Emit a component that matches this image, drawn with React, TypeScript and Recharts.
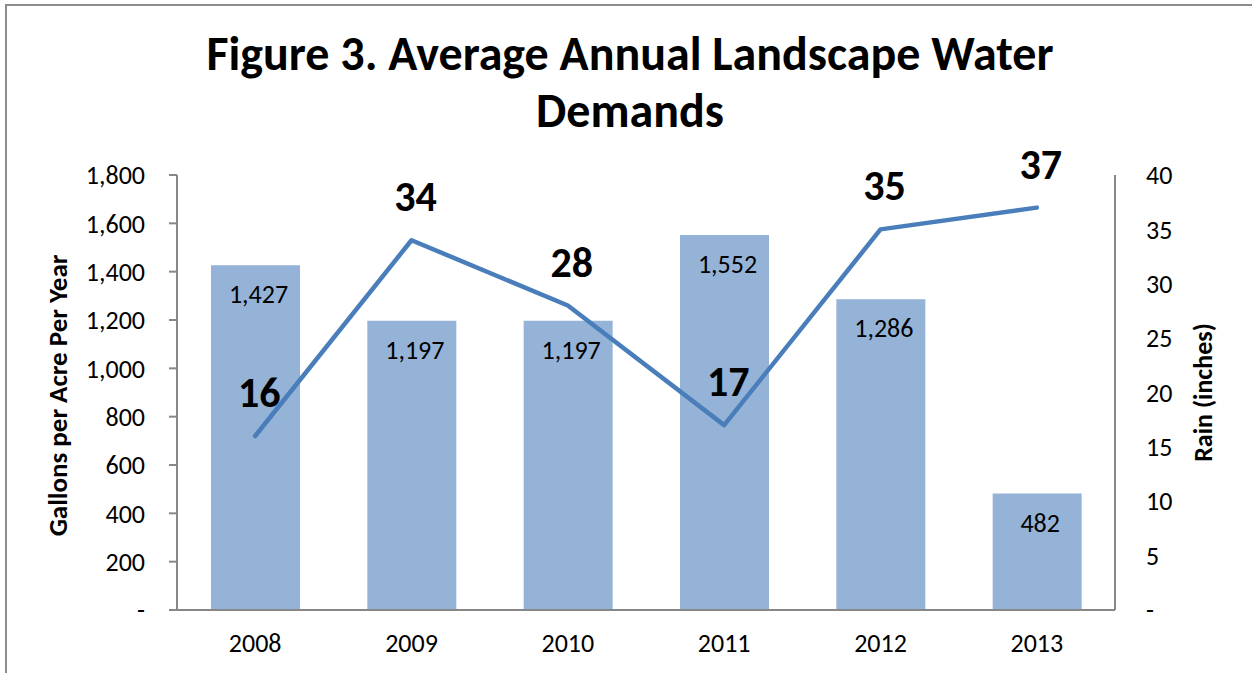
import {
  ComposedChart,
  Bar,
  Line,
  XAxis,
  YAxis,
  LabelList,
} from "recharts";

const years = ["2008", "2009", "2010", "2011", "2012", "2013"];
const gallonsPerAcre = [1427, 1197, 1197, 1552, 1286, 482];
const rainInches = [16, 34, 28, 17, 35, 37];
const leftTicks = [0, 200, 400, 600, 800, 1000, 1200, 1400, 1600, 1800];
const rightTicks = [0, 5, 10, 15, 20, 25, 30, 35, 40];

const data = years.map((year, i) => ({
  year,
  gallons: gallonsPerAcre[i],
  rain: rainInches[i],
}));

const FONT = "Carlito, Lato, 'Open Sans', sans-serif";
const AXIS_GRAY = "#878787";

const fmtLeft = (v: number) => (v === 0 ? "-" : v.toLocaleString("en-US"));
const fmtRight = (v: number) => (v === 0 ? "-" : String(v));

const rainLabel = (props: any) => {
  const { x, y, value } = props;
  return (
    <text
      x={x + 4}
      y={y - 29}
      textAnchor="middle"
      fontSize={42}
      fontWeight="bold"
      fontFamily={FONT}
      fill="#000"
    >
      {value}
    </text>
  );
};

const barLabel = (props: any) => {
  const { x, y, width, value } = props;
  return (
    <text
      x={x + width / 2 + 3}
      y={y + 38}
      textAnchor="middle"
      fontSize={26}
      fontFamily={FONT}
      fill="#000"
    >
      {Number(value).toLocaleString("en-US")}
    </text>
  );
};

const leftTitle = (props: any) => {
  const vb = props.viewBox || { x: 0, y: 175, width: 177, height: 435 };
  const cx = vb.x + 57;
  const cy = vb.y + vb.height / 2 + 3;
  return (
    <text
      x={cx}
      y={cy}
      transform={`rotate(-90, ${cx}, ${cy})`}
      textAnchor="middle"
      dominantBaseline="central"
      fontSize={27}
      fontWeight="bold"
      fontFamily={FONT}
      fill="#000"
    >
      Gallons per Acre Per Year
    </text>
  );
};

const rightTitle = (props: any) => {
  const vb = props.viewBox || { x: 1115, y: 175, width: 137, height: 435 };
  const cx = vb.x + 88;
  const cy = vb.y + vb.height / 2;
  return (
    <text
      x={cx}
      y={cy}
      transform={`rotate(-90, ${cx}, ${cy})`}
      textAnchor="middle"
      dominantBaseline="central"
      fontSize={26}
      fontWeight="bold"
      fontFamily={FONT}
      fill="#000"
    >
      Rain (inches)
    </text>
  );
};

export default function App() {
  return (
    <div
      style={{
        position: "absolute",
        top: 0,
        left: 0,
        width: 1252,
        height: 673,
        background: "#fff",
        overflow: "hidden",
        fontFamily: FONT,
      }}
    >
      {/* chart frame, cut off on the right and bottom */}
      <div
        style={{
          position: "absolute",
          left: 5,
          top: 4,
          width: 1300,
          height: 720,
          borderTop: "2px solid #8c8c8c",
          borderLeft: "2px solid #8c8c8c",
        }}
      />

      <div
        style={{
          position: "absolute",
          left: 0,
          top: 25,
          width: 1260,
          textAlign: "center",
          fontSize: 48,
          fontWeight: "bold",
          lineHeight: "57px",
          color: "#000",
        }}
      >
        Figure 3. Average Annual Landscape Water
        <br />
        Demands
      </div>

      <div style={{ position: "absolute", left: 0, top: 0 }}>
        <ComposedChart
          width={1252}
          height={673}
          data={data}
          margin={{ top: 175, right: 0, bottom: 0, left: 0 }}
        >
          <XAxis
            dataKey="year"
            height={63}
            tickLine={false}
            tickSize={0}
            tickMargin={24}
            axisLine={{ stroke: AXIS_GRAY, strokeWidth: 2 }}
            tick={{ fontSize: 26, fill: "#000", fontFamily: FONT }}
          />
          <YAxis
            yAxisId="left"
            width={177}
            domain={[0, 1800]}
            ticks={leftTicks}
            interval={0}
            tickFormatter={fmtLeft}
            tickSize={8}
            tickMargin={24}
            tickLine={{ stroke: AXIS_GRAY, strokeWidth: 2 }}
            axisLine={{ stroke: AXIS_GRAY, strokeWidth: 2 }}
            tick={{ fontSize: 26, fill: "#000", fontFamily: FONT }}
            label={{ content: leftTitle }}
          />
          <YAxis
            yAxisId="right"
            orientation="right"
            width={137}
            domain={[0, 40]}
            ticks={rightTicks}
            interval={0}
            tickFormatter={fmtRight}
            tickLine={false}
            tickSize={0}
            tickMargin={31}
            axisLine={{ stroke: AXIS_GRAY, strokeWidth: 2 }}
            tick={{ fontSize: 26, fill: "#000", fontFamily: FONT }}
            label={{ content: rightTitle }}
          />
          <Bar
            yAxisId="left"
            dataKey="gallons"
            fill="#95B3D7"
            barSize={89}
            isAnimationActive={false}
          >
            <LabelList dataKey="gallons" content={barLabel} />
          </Bar>
          <Line
            yAxisId="right"
            dataKey="rain"
            type="linear"
            stroke="#4A7EBB"
            strokeWidth={4.5}
            strokeLinecap="round"
            strokeLinejoin="round"
            dot={false}
            isAnimationActive={false}
          >
            <LabelList dataKey="rain" content={rainLabel} />
          </Line>
        </ComposedChart>
      </div>
    </div>
  );
}
